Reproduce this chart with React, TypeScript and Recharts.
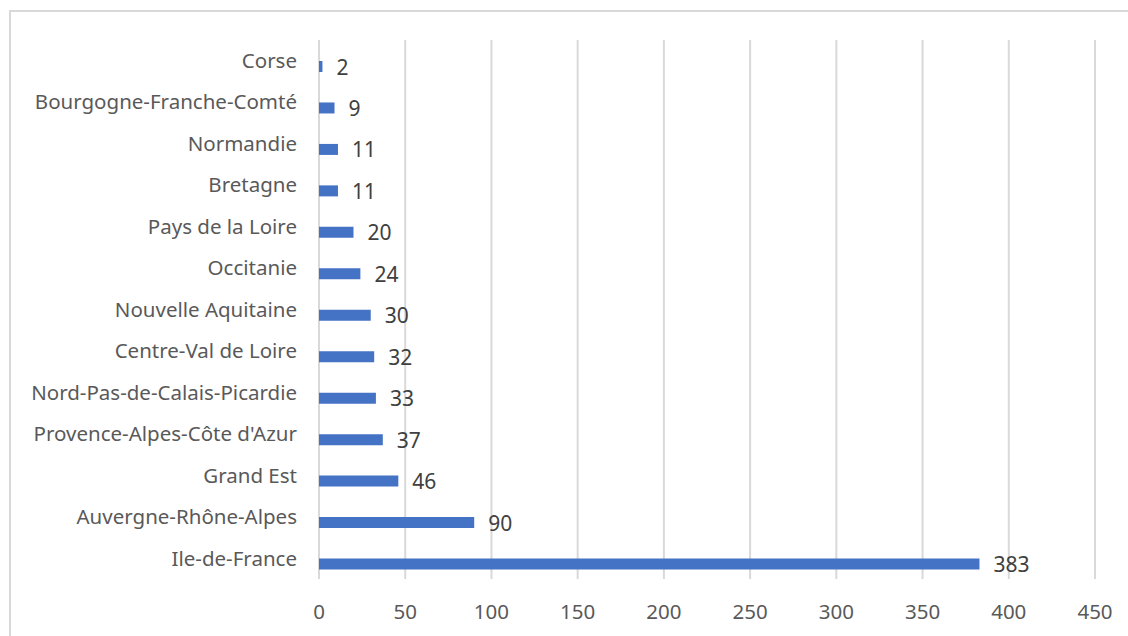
import React from 'react';
import { BarChart, Bar, XAxis, YAxis, CartesianGrid, LabelList, Rectangle } from 'recharts';

const regions = [
  'Corse',
  'Bourgogne-Franche-Comté',
  'Normandie',
  'Bretagne',
  'Pays de la Loire',
  'Occitanie',
  'Nouvelle Aquitaine',
  'Centre-Val de Loire',
  'Nord-Pas-de-Calais-Picardie',
  "Provence-Alpes-Côte d'Azur",
  'Grand Est',
  'Auvergne-Rhône-Alpes',
  'Ile-de-France',
];

const counts = [2, 9, 11, 11, 20, 24, 30, 32, 33, 37, 46, 90, 383];

const xTicks = [0, 50, 100, 150, 200, 250, 300, 350, 400, 450];

const data = regions.map((name, i) => ({ name, value: counts[i] }));

const FONT = '"Noto Sans", sans-serif';
const BAR_SHIFT = 6; // Excel draws bars a bit below the category centre

const ShiftedBar = (props: any) => <Rectangle {...props} y={props.y + BAR_SHIFT} />;

const ValueLabel = (props: any) => {
  const { x, y, width, height, value } = props;
  return (
    <text
      x={x + width + 14}
      y={y + height / 2 + BAR_SHIFT}
      dominantBaseline="central"
      fill="#404040"
      fontSize={21}
      fontFamily={FONT}
    >
      {value}
    </text>
  );
};

const App: React.FC = () => {
  return (
    <div style={{ position: 'absolute', left: 0, top: 0, width: 1128, height: 636, overflow: 'hidden', background: '#fff' }}>
      <div
        style={{
          position: 'absolute',
          left: 9,
          top: 10,
          width: 1160,
          height: 660,
          border: '2px solid #d9d9d9',
        }}
      />
      <div style={{ position: 'absolute', left: 0, top: 0 }}>
        <BarChart
          width={1128}
          height={636}
          data={data}
          layout="vertical"
          margin={{ top: 40, right: 33, left: 0, bottom: 27 }}
          barSize={11}
        >
          <CartesianGrid horizontal={false} stroke="#d9d9d9" strokeWidth={2} />
          <XAxis
            type="number"
            domain={[0, 450]}
            ticks={xTicks}
            axisLine={false}
            tickLine={false}
            tickSize={6}
            tickMargin={19}
            height={30}
            tick={{ fill: '#595959', fontSize: 20.5, fontFamily: FONT }}
          />
          <YAxis
            type="category"
            dataKey="name"
            width={319}
            axisLine={false}
            tickLine={false}
            tickSize={6}
            tickMargin={16}
            interval={0}
            tick={{ fill: '#595959', fontSize: 20.5, fontFamily: FONT }}
          />
          <Bar dataKey="value" fill="#4472C4" shape={ShiftedBar} isAnimationActive={false}>
            <LabelList dataKey="value" content={ValueLabel} />
          </Bar>
        </BarChart>
      </div>
    </div>
  );
};

export default App;
